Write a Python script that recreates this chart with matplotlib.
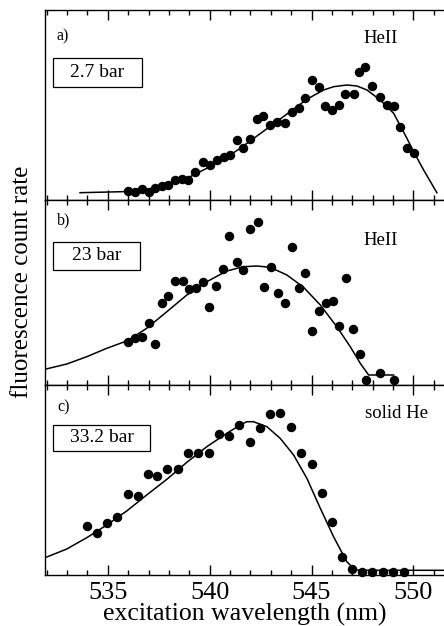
import matplotlib
matplotlib.use('Agg')
import matplotlib.pyplot as plt
from matplotlib.patches import Rectangle
from matplotlib.ticker import MultipleLocator

plt.rcParams['font.family'] = ['Liberation Serif', 'DejaVu Serif']

# data (y in arbitrary units = pixel height above panel bottom)
a_x = [535.97, 536.34, 536.67, 537.00, 537.32, 537.65, 537.98, 538.31, 538.63, 538.96,
       539.29, 539.66, 540.02, 540.35, 540.68, 541.01, 541.33, 541.66, 541.99, 542.32,
       542.64, 542.97, 543.30, 543.71, 544.03, 544.36, 544.69, 545.02, 545.35, 545.67,
       546.00, 546.33, 546.65, 547.06, 547.31, 547.63, 547.96, 548.37, 548.70, 549.03,
       549.35, 549.68, 550.04]
a_y = [9, 8.3, 10.7, 7.7, 11.7, 14, 15, 20, 20.7, 20,
       28.3, 38.3, 35, 40, 42.7, 45, 60, 51.7, 60.7, 81,
       84, 75, 78.3, 76.7, 88.3, 91.7, 101.7, 120, 113.3, 94,
       90, 95, 105.7, 105.7, 128.3, 132.7, 114, 103.3, 95, 94,
       72.7, 51.7, 47.3]
a_fit_x = [533.64, 535.69, 536.59, 537.41, 538.22, 539.04, 539.86, 540.68, 541.50, 542.32,
           543.13, 543.95, 544.77, 545.59, 546.08, 546.73, 547.23, 547.72, 548.37, 549.03,
           549.68, 550.01, 550.50, 551.15]
a_fit_y = [7.3, 8.3, 9.3, 12.7, 16.7, 23.3, 31.7, 40.7, 51.7, 64,
           76, 88.3, 100.7, 110, 113.3, 115, 114, 110, 100, 86.7,
           61.7, 48.3, 30, 7.3]

b_x = [535.97, 536.34, 536.67, 537.00, 537.32, 537.65, 537.98, 538.31, 538.68, 539.00,
       539.34, 539.66, 539.99, 540.32, 540.65, 540.97, 541.33, 541.66, 541.99, 542.35,
       542.68, 543.00, 543.33, 543.71, 544.03, 544.36, 544.69, 545.02, 545.35, 545.70,
       546.05, 546.37, 546.70, 547.03, 547.36, 547.68, 548.37, 549.03]
b_y = [42.7, 47.3, 48.3, 61.7, 40.7, 82.3, 89, 104, 104.3, 96,
       96.7, 103.3, 77.7, 99.3, 115.7, 149.3, 122.7, 115, 155.7, 162.7,
       98.3, 117.7, 91.7, 81.7, 138.3, 97.3, 111.7, 54, 74, 81.7,
       84.3, 59, 106.7, 55.7, 31, 5, 12.3, 5]
b_fit_x = [531.97, 532.99, 533.97, 534.95, 535.97, 536.91, 537.90, 538.88, 539.86, 540.84,
           541.66, 542.32, 542.97, 543.79, 544.61, 545.43, 546.24, 546.90, 547.39, 547.80,
           549.03]
b_fit_y = [16, 21, 28.3, 36.7, 44.3, 56.7, 73.3, 90, 103.3, 114,
           118.3, 119, 117.7, 110, 97.7, 80, 58.3, 38.3, 21.7, 10,
           10]

c_x = [533.97, 534.46, 534.95, 535.44, 535.97, 536.46, 536.95, 537.44, 537.93, 538.47,
       538.96, 539.45, 539.98, 540.47, 540.96, 541.46, 541.96, 542.45, 542.94, 543.47,
       543.99, 544.48, 545.00, 545.51, 546.00, 546.49, 546.98, 547.48, 547.96, 548.49,
       548.99, 549.52]
c_y = [49.3, 41.7, 52.3, 58.3, 80.7, 79, 100.7, 99.3, 106, 105.7,
       122.3, 122.3, 121.7, 141, 139.3, 149.7, 133.3, 146.7, 160.7, 162.3,
       147.7, 121.7, 110.7, 82.3, 53.3, 18.3, 6, 2.7, 2.7, 2.7,
       2.7, 2.7]
c_fit_x = [531.97, 532.99, 533.97, 534.95, 535.93, 536.91, 537.90, 538.88, 539.86, 540.84,
           541.50, 541.82, 542.15, 542.81, 543.46, 544.12, 544.77, 545.43, 546.08, 546.73,
           547.14, 548.04, 551.48]
c_fit_y = [17.7, 26, 37.3, 50, 64, 80, 95.7, 112.7, 128.3, 141.7,
           150, 153.3, 153.3, 148.3, 136.7, 120, 96.7, 66.7, 38.3, 13.3,
           5, 4.7, 4.7]

labels = ['a)', 'b)', 'c)']
phases = ['HeII', 'HeII', 'solid He']
pressures = ['2.7 bar', '23 bar', '33.2 bar']
heights = [190, 185, 190]

fig = plt.figure(figsize=(4.44, 6.26), dpi=100)
gs = fig.add_gridspec(3, 1, height_ratios=heights, hspace=0,
                      left=45/444, right=1.0, top=1-10/626, bottom=1-575/626)

panels = [(a_x, a_y, a_fit_x, a_fit_y), (b_x, b_y, b_fit_x, b_fit_y),
          (c_x, c_y, c_fit_x, c_fit_y)]
box_pos = [(0.02, 0.595, 0.223, 0.152), (0.02, 0.622, 0.218, 0.151),
           (0.02, 0.655, 0.243, 0.135)]
lab_y = [0.86, 0.89, 0.88]
phase_pos = [(0.84, 0.85), (0.84, 0.78), (0.882, 0.85)]

for i, (x, y, fx, fy) in enumerate(panels):
    ax = fig.add_subplot(gs[i])
    ax.plot(fx, fy, color='black', lw=1.1, zorder=2)
    ax.plot(x, y, 'o', color='black', ms=5.8, zorder=3, clip_on=False)
    ax.set_xlim(531.92, 551.5)
    ax.set_ylim(0, heights[i])
    ax.spines['right'].set_visible(False)
    for s in ['left', 'top', 'bottom']:
        ax.spines[s].set_linewidth(1.0)
    ax.set_yticks([])
    ax.xaxis.set_major_locator(MultipleLocator(5))
    ax.xaxis.set_minor_locator(MultipleLocator(1))
    ax.tick_params(axis='x', which='both', direction='in', top=True, bottom=True,
                   labelsize=19, width=1.0, pad=5)
    ax.tick_params(axis='x', which='major', length=7)
    ax.tick_params(axis='x', which='minor', length=3.5)
    if i < 2:
        ax.tick_params(axis='x', labelbottom=False)
    else:
        ax.set_xlabel('excitation wavelength (nm)', fontsize=18.5, labelpad=-1)

    ax.text(0.03, lab_y[i], labels[i], transform=ax.transAxes, fontsize=11.5,
            va='center', ha='left')
    ax.text(phase_pos[i][0], phase_pos[i][1], phases[i], transform=ax.transAxes,
            fontsize=13.5, va='center', ha='center')
    bx, by, bw, bh = box_pos[i]
    ax.add_patch(Rectangle((bx, by), bw, bh, transform=ax.transAxes, fill=False,
                           lw=0.9, edgecolor='black'))
    ax.text(bx + bw/2, by + bh/2, pressures[i], transform=ax.transAxes,
            fontsize=14, va='center', ha='center')

fig.text(22/444, 1-282/626, 'fluorescence count rate', rotation=90,
         fontsize=18, va='center', ha='center')

fig.savefig('out.png', dpi=100)
